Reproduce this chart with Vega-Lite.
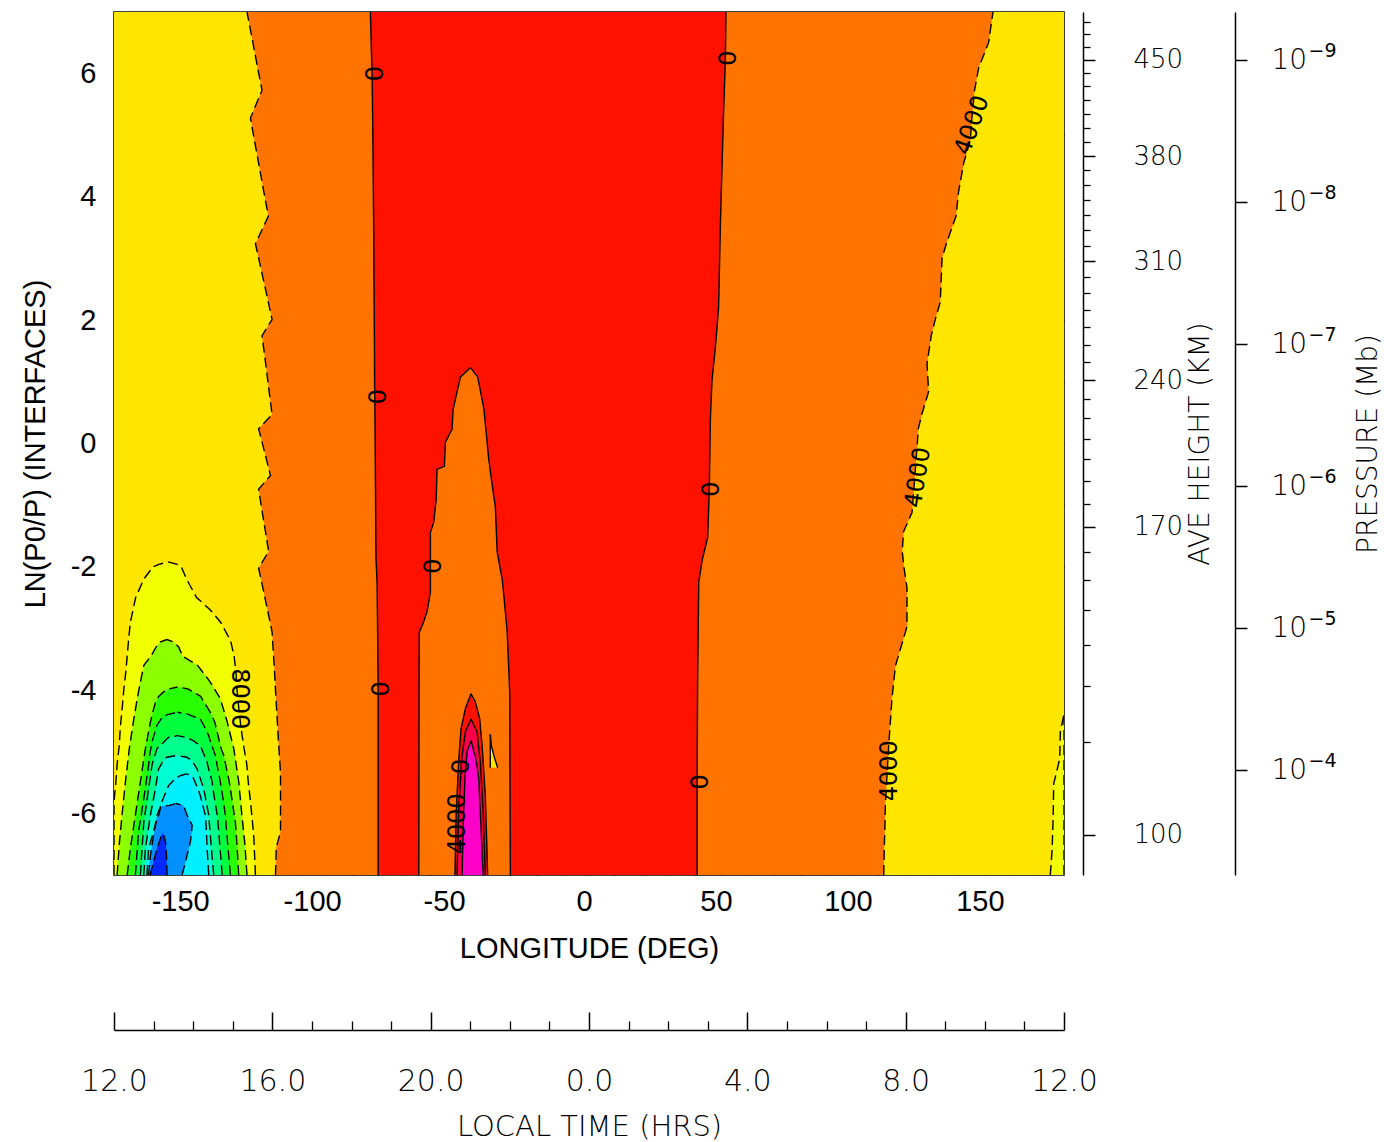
{
  "$schema": "https://vega.github.io/schema/vega-lite/v6.json",
  "width": 950,
  "height": 863,
  "autosize": {"type": "none"},
  "padding": {"left": 114, "top": 12, "right": 320, "bottom": 267},
  "background": "white",
  "config": {"view": {"stroke": "#000", "strokeWidth": 1.5}, "axis": {"grid": false}},
  "datasets": {
    "regions": [
      {"r":"bg","z":-7,"lo":-180,"hi":180},{"r":"bg","z":7,"lo":-180,"hi":180},
      {"r":"lr","z":-4.39,"lo":180,"hi":180},{"r":"lr","z":-4.68,"lo":178.6,"hi":180},{"r":"lr","z":-5.11,"lo":178.4,"hi":180},{"r":"lr","z":-5.52,"lo":176.1,"hi":180},{"r":"lr","z":-6.05,"lo":175.9,"hi":180},{"r":"lr","z":-6.6,"lo":175.5,"hi":180},{"r":"lr","z":-7,"lo":174.8,"hi":180},
      {"r":"or","z":7.0,"lo":-129.6,"hi":153.1},{"r":"or","z":6.5,"lo":-127.35,"hi":151.4},{"r":"or","z":6.1,"lo":-125.6,"hi":147.7},{"r":"or","z":5.73,"lo":-123.9,"hi":146.1},{"r":"or","z":5.28,"lo":-128.3,"hi":145.1},{"r":"or","z":4.92,"lo":-126.8,"hi":144.5},{"r":"or","z":4.55,"lo":-125.2,"hi":142.0},{"r":"or","z":4.1,"lo":-123.3,"hi":140.1},{"r":"or","z":3.69,"lo":-121.5,"hi":139.1},{"r":"or","z":3.24,"lo":-126.4,"hi":135.4},{"r":"or","z":3.01,"lo":-125.2,"hi":133.8},{"r":"or","z":2.29,"lo":-121.5,"hi":133.1},{"r":"or","z":2.01,"lo":-120.1,"hi":131.2},{"r":"or","z":1.75,"lo":-123.9,"hi":129.7},{"r":"or","z":1.29,"lo":-122.5,"hi":128.1},{"r":"or","z":0.84,"lo":-121.2,"hi":128.7},{"r":"or","z":0.47,"lo":-120.1,"hi":126.1},{"r":"or","z":0.24,"lo":-125.2,"hi":124.8},{"r":"or","z":-0.06,"lo":-123.4,"hi":124.3},{"r":"or","z":-0.52,"lo":-120.7,"hi":123.5},{"r":"or","z":-0.74,"lo":-125.2,"hi":123.1},{"r":"or","z":-1.12,"lo":-123.8,"hi":122.4},{"r":"or","z":-1.43,"lo":-122.6,"hi":119.2},{"r":"or","z":-1.75,"lo":-121.4,"hi":118.7},{"r":"or","z":-2.02,"lo":-125.2,"hi":119.4},{"r":"or","z":-2.34,"lo":-123.6,"hi":120.5},{"r":"or","z":-2.97,"lo":-120.5,"hi":120.5},{"r":"or","z":-3.06,"lo":-120.1,"hi":119.9},{"r":"or","z":-3.61,"lo":-119.3,"hi":116.1},{"r":"or","z":-4.15,"lo":-118.6,"hi":114.8},{"r":"or","z":-4.88,"lo":-117.6,"hi":113.6},{"r":"or","z":-5.34,"lo":-116.9,"hi":113.0},{"r":"or","z":-5.87,"lo":-116.9,"hi":112.3},{"r":"or","z":-6.3,"lo":-116.9,"hi":112.1},{"r":"or","z":-6.55,"lo":-118.5,"hi":111.9},{"r":"or","z":-7.0,"lo":-118.8,"hi":111.7},
      {"r":"rd","z":7.0,"lo":-82.85,"hi":51.9},{"r":"rd","z":6.28,"lo":-82.4,"hi":51.7},{"r":"rd","z":6.0,"lo":-82.2,"hi":51.5},{"r":"rd","z":5.37,"lo":-82.0,"hi":51.0},{"r":"rd","z":4.47,"lo":-81.8,"hi":50.4},{"r":"rd","z":3.56,"lo":-81.6,"hi":49.8},{"r":"rd","z":2.2,"lo":-81.4,"hi":49.1},{"r":"rd","z":1.56,"lo":-81.3,"hi":47.9},{"r":"rd","z":1.02,"lo":-81.25,"hi":46.6},{"r":"rd","z":0.76,"lo":-81.2,"hi":46.35},{"r":"rd","z":0.39,"lo":-81.1,"hi":46.0},{"r":"rd","z":-0.71,"lo":-80.9,"hi":45.6},{"r":"rd","z":-1.52,"lo":-80.8,"hi":45.0},{"r":"rd","z":-1.89,"lo":-80.7,"hi":42.9},{"r":"rd","z":-2.25,"lo":-80.3,"hi":41.6},{"r":"rd","z":-3.7,"lo":-79.95,"hi":41.2},{"r":"rd","z":-3.98,"lo":-79.9,"hi":41.15},{"r":"rd","z":-5.47,"lo":-79.9,"hi":41.0},{"r":"rd","z":-7.0,"lo":-79.9,"hi":41.0},
      {"r":"tg","z":1.23,"lo":-44.9,"hi":-44.9},{"r":"tg","z":1.08,"lo":-48.7,"hi":-42.2},{"r":"tg","z":0.8,"lo":-50.2,"hi":-40.9},{"r":"tg","z":0.55,"lo":-51.5,"hi":-39.8},{"r":"tg","z":0.23,"lo":-51.9,"hi":-39.1},{"r":"tg","z":0.02,"lo":-54.4,"hi":-38.6},{"r":"tg","z":-0.26,"lo":-54.7,"hi":-38.0},{"r":"tg","z":-0.37,"lo":-54.8,"hi":-37.6},{"r":"tg","z":-0.42,"lo":-57.6,"hi":-37.5},{"r":"tg","z":-0.91,"lo":-57.9,"hi":-35.9},{"r":"tg","z":-1.02,"lo":-58.2,"hi":-35.5},{"r":"tg","z":-1.28,"lo":-58.85,"hi":-35.25},{"r":"tg","z":-1.44,"lo":-60.1,"hi":-35.1},{"r":"tg","z":-1.76,"lo":-60.1,"hi":-34.8},{"r":"tg","z":-2.2,"lo":-60.1,"hi":-32.9},{"r":"tg","z":-2.41,"lo":-60.1,"hi":-32.4},{"r":"tg","z":-2.73,"lo":-61.35,"hi":-31.7},{"r":"tg","z":-2.96,"lo":-63.25,"hi":-31.2},{"r":"tg","z":-3.06,"lo":-64.3,"hi":-31.0},{"r":"tg","z":-4.03,"lo":-64.4,"hi":-30.05},{"r":"tg","z":-7.0,"lo":-64.5,"hi":-29.8},
      {"r":"s1","z":-4.06,"lo":-44.7,"hi":-44.7},{"r":"s1","z":-4.19,"lo":-45.85,"hi":-43.1},{"r":"s1","z":-4.3,"lo":-46.84,"hi":-42.4},{"r":"s1","z":-4.47,"lo":-47.7,"hi":-41.4},{"r":"s1","z":-4.63,"lo":-48.5,"hi":-41.1},{"r":"s1","z":-4.9,"lo":-48.96,"hi":-40.5},{"r":"s1","z":-5.16,"lo":-49.4,"hi":-40.1},{"r":"s1","z":-5.71,"lo":-50.0,"hi":-39.3},{"r":"s1","z":-5.97,"lo":-50.3,"hi":-39.1},{"r":"s1","z":-7,"lo":-50.8,"hi":-38.4},
      {"r":"s2","z":-4.47,"lo":-44.7,"hi":-44.7},{"r":"s2","z":-4.68,"lo":-46.84,"hi":-42.4},{"r":"s2","z":-5.06,"lo":-48.1,"hi":-41.5},{"r":"s2","z":-5.16,"lo":-48.3,"hi":-41.2},{"r":"s2","z":-5.97,"lo":-49.4,"hi":-40.1},{"r":"s2","z":-7,"lo":-50.0,"hi":-39.3},
      {"r":"s3","z":-4.82,"lo":-44.7,"hi":-44.7},{"r":"s3","z":-5.0,"lo":-46.2,"hi":-43.6},{"r":"s3","z":-5.06,"lo":-46.3,"hi":-43.1},{"r":"s3","z":-5.32,"lo":-46.84,"hi":-42.1},{"r":"s3","z":-5.44,"lo":-47.0,"hi":-41.8},{"r":"s3","z":-5.97,"lo":-47.5,"hi":-41.2},{"r":"s3","z":-6.25,"lo":-47.7,"hi":-40.9},{"r":"s3","z":-7,"lo":-48.1,"hi":-40.1},
      {"r":"tri","z":-4.72,"lo":-37.4,"hi":-37.4},{"r":"tri","z":-4.9,"lo":-37.4,"hi":-37.0},{"r":"tri","z":-5.1,"lo":-37.4,"hi":-35.8},{"r":"tri","z":-5.26,"lo":-37.4,"hi":-34.6},
      {"r":"c1","z":-1.92,"lo":-159.5,"hi":-159.5},{"r":"c1","z":-1.96,"lo":-163,"hi":-156},{"r":"c1","z":-2.0,"lo":-165.2,"hi":-154.5},{"r":"c1","z":-2.2,"lo":-168.7,"hi":-152.5},{"r":"c1","z":-2.5,"lo":-171.8,"hi":-148.7},{"r":"c1","z":-2.7,"lo":-172.8,"hi":-143.5},{"r":"c1","z":-2.9,"lo":-173.8,"hi":-139.6},{"r":"c1","z":-3.2,"lo":-174.5,"hi":-135.8},{"r":"c1","z":-3.45,"lo":-175.0,"hi":-134.5},{"r":"c1","z":-3.7,"lo":-175.5,"hi":-133.8},{"r":"c1","z":-4.0,"lo":-176.3,"hi":-133.4},{"r":"c1","z":-4.3,"lo":-176.9,"hi":-132.7},{"r":"c1","z":-4.6,"lo":-177.6,"hi":-131.9},{"r":"c1","z":-4.9,"lo":-178.0,"hi":-130.9},{"r":"c1","z":-5.2,"lo":-178.8,"hi":-129.7},{"r":"c1","z":-5.5,"lo":-179.3,"hi":-129.1},{"r":"c1","z":-5.8,"lo":-180,"hi":-128.3},{"r":"c1","z":-6.1,"lo":-180,"hi":-127.6},{"r":"c1","z":-6.4,"lo":-180,"hi":-127.0},{"r":"c1","z":-6.7,"lo":-180,"hi":-126.7},{"r":"c1","z":-7.0,"lo":-180,"hi":-126.4},
      {"r":"c2","z":-3.18,"lo":-160,"hi":-160},{"r":"c2","z":-3.22,"lo":-162.5,"hi":-157.5},{"r":"c2","z":-3.3,"lo":-164.0,"hi":-155.5},{"r":"c2","z":-3.45,"lo":-166.0,"hi":-154.0},{"r":"c2","z":-3.6,"lo":-168.7,"hi":-148.3},{"r":"c2","z":-3.87,"lo":-170,"hi":-143.5},{"r":"c2","z":-4.14,"lo":-171.2,"hi":-139.7},{"r":"c2","z":-4.5,"lo":-172.6,"hi":-137.2},{"r":"c2","z":-4.95,"lo":-174.2,"hi":-134.6},{"r":"c2","z":-5.5,"lo":-175.7,"hi":-132.7},{"r":"c2","z":-6.0,"lo":-176.9,"hi":-131.6},{"r":"c2","z":-6.5,"lo":-178.0,"hi":-130.4},{"r":"c2","z":-7.0,"lo":-178.8,"hi":-129.6},
      {"r":"c3","z":-3.95,"lo":-156,"hi":-156},{"r":"c3","z":-3.98,"lo":-159,"hi":-152},{"r":"c3","z":-4.03,"lo":-161.2,"hi":-150},{"r":"c3","z":-4.1,"lo":-163,"hi":-147.2},{"r":"c3","z":-4.2,"lo":-164.3,"hi":-145.8},{"r":"c3","z":-4.36,"lo":-165.3,"hi":-143.5},{"r":"c3","z":-4.52,"lo":-166.2,"hi":-141.8},{"r":"c3","z":-4.68,"lo":-166.9,"hi":-140.9},{"r":"c3","z":-4.95,"lo":-168.1,"hi":-139.4},{"r":"c3","z":-5.06,"lo":-168.5,"hi":-138.4},{"r":"c3","z":-5.49,"lo":-170,"hi":-136.3},{"r":"c3","z":-5.6,"lo":-170.4,"hi":-135.9},{"r":"c3","z":-6.03,"lo":-171.9,"hi":-134.4},{"r":"c3","z":-6.14,"lo":-172.3,"hi":-134.0},{"r":"c3","z":-6.57,"lo":-173.8,"hi":-133.3},{"r":"c3","z":-7.0,"lo":-175,"hi":-132.75},
      {"r":"c4","z":-4.36,"lo":-156,"hi":-156},{"r":"c4","z":-4.39,"lo":-159,"hi":-152},{"r":"c4","z":-4.42,"lo":-161.2,"hi":-150.5},{"r":"c4","z":-4.47,"lo":-162.2,"hi":-147.3},{"r":"c4","z":-4.57,"lo":-163.7,"hi":-146.0},{"r":"c4","z":-4.74,"lo":-164.9,"hi":-144.1},{"r":"c4","z":-4.84,"lo":-165.6,"hi":-143.4},{"r":"c4","z":-5.06,"lo":-166.5,"hi":-141.6},{"r":"c4","z":-5.22,"lo":-166.9,"hi":-140.9},{"r":"c4","z":-5.49,"lo":-167.8,"hi":-139.7},{"r":"c4","z":-5.76,"lo":-168.7,"hi":-138.7},{"r":"c4","z":-6.03,"lo":-169.7,"hi":-137.8},{"r":"c4","z":-6.3,"lo":-170.7,"hi":-137.3},{"r":"c4","z":-7.0,"lo":-171.9,"hi":-135.9},
      {"r":"c5","z":-4.74,"lo":-156,"hi":-156},{"r":"c5","z":-4.77,"lo":-159.5,"hi":-152.5},{"r":"c5","z":-4.82,"lo":-160.5,"hi":-150.0},{"r":"c5","z":-4.9,"lo":-162.5,"hi":-147.3},{"r":"c5","z":-4.95,"lo":-163.7,"hi":-146.8},{"r":"c5","z":-5.17,"lo":-165.3,"hi":-144.7},{"r":"c5","z":-5.22,"lo":-165.6,"hi":-144.5},{"r":"c5","z":-5.49,"lo":-166.5,"hi":-142.8},{"r":"c5","z":-5.6,"lo":-166.9,"hi":-142.5},{"r":"c5","z":-6.03,"lo":-168.3,"hi":-140.9},{"r":"c5","z":-6.14,"lo":-168.7,"hi":-140.6},{"r":"c5","z":-7.0,"lo":-170,"hi":-139},
      {"r":"c6","z":-5.06,"lo":-156,"hi":-156},{"r":"c6","z":-5.09,"lo":-160,"hi":-152.5},{"r":"c6","z":-5.14,"lo":-161.2,"hi":-150.5},{"r":"c6","z":-5.28,"lo":-163.1,"hi":-148.5},{"r":"c6","z":-5.6,"lo":-164.3,"hi":-146},{"r":"c6","z":-6.03,"lo":-166.2,"hi":-144.1},{"r":"c6","z":-6.57,"lo":-168.1,"hi":-143.1},{"r":"c6","z":-7.0,"lo":-168.7,"hi":-142.2},
      {"r":"c7","z":-5.36,"lo":-152.5,"hi":-152.5},{"r":"c7","z":-5.39,"lo":-155,"hi":-150.5},{"r":"c7","z":-5.44,"lo":-156.8,"hi":-149.8},{"r":"c7","z":-5.55,"lo":-159.3,"hi":-148.7},{"r":"c7","z":-5.71,"lo":-160.9,"hi":-147.3},{"r":"c7","z":-5.81,"lo":-161.8,"hi":-146.7},{"r":"c7","z":-6.03,"lo":-163.1,"hi":-145.4},{"r":"c7","z":-6.19,"lo":-164.3,"hi":-145.1},{"r":"c7","z":-6.57,"lo":-166.9,"hi":-144.7},{"r":"c7","z":-7.0,"lo":-167.5,"hi":-144.1},
      {"r":"c8","z":-5.84,"lo":-156.5,"hi":-156.5},{"r":"c8","z":-5.87,"lo":-159,"hi":-154},{"r":"c8","z":-5.89,"lo":-162.4,"hi":-153.5},{"r":"c8","z":-6.03,"lo":-163.7,"hi":-152.3},{"r":"c8","z":-6.19,"lo":-164.4,"hi":-150.4},{"r":"c8","z":-6.35,"lo":-165.0,"hi":-150.7},{"r":"c8","z":-6.46,"lo":-165.4,"hi":-151.05},{"r":"c8","z":-6.68,"lo":-166.2,"hi":-152.3},{"r":"c8","z":-7.0,"lo":-166.9,"hi":-154.2},
      {"r":"c9","z":-6.32,"lo":-161.6,"hi":-161.6},{"r":"c9","z":-6.35,"lo":-162.0,"hi":-161.2},{"r":"c9","z":-6.46,"lo":-162.8,"hi":-160.5},{"r":"c9","z":-6.57,"lo":-163.7,"hi":-160.2},{"r":"c9","z":-7.0,"lo":-166.3,"hi":-159.9}
    ],
    "labels": [
      {"t":"0","lon":-82.1,"z":6.0,"g":"v"},
      {"t":"0","lon":-80.95,"z":0.76,"g":"v"},
      {"t":"0","lon":-79.8,"z":-3.98,"g":"v"},
      {"t":"0","lon":-60.1,"z":-1.99,"g":"v"},
      {"t":"0","lon":51.7,"z":6.25,"g":"v"},
      {"t":"0","lon":45.2,"z":-0.74,"g":"v"},
      {"t":"0","lon":41.1,"z":-5.49,"g":"v"},
      {"t":"0","lon":-49.5,"z":-5.24,"g":"v"},
      {"t":"8000","lon":-132.75,"z":-4.14,"g":"v8"},
      {"t":"4000","lon":114.2,"z":-5.31,"g":"u"},
      {"t":"4000","lon":-49.5,"z":-6.17,"g":"u"},
      {"t":"4000","lon":124.8,"z":-0.55,"g":"u80"},
      {"t":"4000","lon":145.3,"z":5.16,"g":"u73"}
    ]
  },
  "resolve": {"axis": {"x": "independent", "y": "independent"}},
  "layer": [
    {
      "data": {"name": "regions"},
      "transform": [{"filter": "datum.r === 'bg'"}],
      "mark": {"type": "area", "orient": "horizontal", "color": "#FFE600", "clip": true},
      "encoding": {
        "y": {"field": "z", "type": "quantitative", "scale": {"domain": [-7, 7], "nice": false, "zero": false},
          "axis": {"orient": "left", "values": [-6, -4, -2, 0, 2, 4, 6], "labelExpr": "(datum.value < 0 ? '-' : '') + abs(datum.value)", "ticks": false, "domain": false, "labelFont": "Liberation Sans", "labelFontSize": 29, "labelColor": "#000", "labelPadding": 18, "labelFlush": false, "labelOverlap": false, "title": "LN(P0/P) (INTERFACES)", "titleFont": "Liberation Sans", "titleFontSize": 29, "titleFontWeight": "normal", "titleColor": "#000", "titlePadding": 20}},
        "x": {"field": "lo", "type": "quantitative", "stack": null, "scale": {"domain": [-180, 180], "nice": false, "zero": false},
          "axis": {"orient": "bottom", "values": [0, 50, 100, 150], "ticks": false, "domain": false, "labelFont": "Liberation Sans", "labelFontSize": 29, "labelColor": "#000", "labelPadding": 12, "labelOffset": -5, "labelFlush": false, "labelOverlap": false, "title": "LONGITUDE (DEG)", "titleFont": "Liberation Sans", "titleFontSize": 29, "titleFontWeight": "normal", "titleColor": "#000", "titlePadding": 18}},
        "x2": {"field": "hi"}
      }
    },
    {
      "data": {"name": "regions"},
      "transform": [{"filter": "datum.r !== 'bg'"}],
      "mark": {"type": "area", "orient": "horizontal", "clip": true},
      "encoding": {
        "y": {"field": "z", "type": "quantitative", "scale": {"domain": [-7, 7], "nice": false, "zero": false},
          "axis": {"orient": "left", "values": [-6, -5, -4, -3, -2, -1, 0, 1, 2, 3, 4, 5, 6], "labels": false, "domain": false, "ticks": true, "tickSize": -13, "tickColor": "#000", "tickWidth": 1.2, "title": null}},
        "x": {"field": "lo", "type": "quantitative", "stack": null, "scale": {"domain": [-180, 180], "nice": false, "zero": false},
          "axis": {"orient": "bottom", "values": [-170, -160, -140, -130, -120, -110, -90, -80, -70, -60, -40, -30, -20, -10, 10, 20, 30, 40, 60, 70, 80, 90, 110, 120, 130, 140, 160, 170], "labels": false, "domain": false, "ticks": true, "tickSize": -8, "tickColor": "#000", "tickWidth": 1.2, "title": null}},
        "x2": {"field": "hi"},
        "color": {"field": "r", "type": "nominal", "legend": null,
          "scale": {"domain": ["lr", "or", "rd", "tg", "s1", "s2", "s3", "tri", "c1", "c2", "c3", "c4", "c5", "c6", "c7", "c8", "c9"],
                    "range": ["#F2FF00", "#FF7300", "#FF1100", "#FF7300", "#FF1100", "#FF0048", "#FF00C8", "#FFE600", "#F2FF00", "#8CFF00", "#28FF00", "#00FF3C", "#00FF8C", "#00FFD2", "#00F0FF", "#0090FF", "#0028FF"]}}
      }
    },
    {
      "data": {"name": "regions"},
      "transform": [{"filter": {"field": "r", "oneOf": ["rd", "tg", "s1", "s2", "s3", "tri"]}}, {"fold": ["lo", "hi"], "as": ["side", "xv"]}],
      "mark": {"type": "line", "color": "#000", "strokeWidth": 1.4, "clip": true},
      "encoding": {
        "y": {"field": "z", "type": "quantitative", "scale": {"domain": [-7, 7], "nice": false, "zero": false},
          "axis": {"orient": "right", "values": [-6, -5, -4, -3, -2, -1, 0, 1, 2, 3, 4, 5, 6], "labels": false, "domain": false, "ticks": true, "tickSize": -13, "tickColor": "#000", "tickWidth": 1.2, "title": null}},
        "x": {"field": "xv", "type": "quantitative", "scale": {"domain": [-180, 180], "nice": false, "zero": false},
          "axis": {"orient": "top", "values": [-170, -160, -140, -130, -120, -110, -90, -80, -70, -60, -40, -30, -20, -10, 10, 20, 30, 40, 60, 70, 80, 90, 110, 120, 130, 140, 160, 170], "labels": false, "domain": false, "ticks": true, "tickSize": -8, "tickColor": "#000", "tickWidth": 1.2, "title": null}},
        "detail": [{"field": "r", "type": "nominal"}, {"field": "side", "type": "nominal"}],
        "order": {"field": "z", "type": "quantitative"}
      }
    },
    {
      "data": {"name": "regions"},
      "transform": [{"filter": {"field": "r", "oneOf": ["or", "lr", "c1", "c2", "c3", "c4", "c5", "c6", "c7", "c8", "c9"]}}, {"fold": ["lo", "hi"], "as": ["side", "xv"]}],
      "mark": {"type": "line", "color": "#000", "strokeWidth": 1.4, "strokeDash": [10, 5], "clip": true},
      "encoding": {
        "y": {"field": "z", "type": "quantitative", "scale": {"domain": [-7, 7], "nice": false, "zero": false},
          "axis": {"orient": "right", "offset": 19, "values": [6.225, 4.663, 2.955, 1.023, -1.35, -6.343], "domain": true, "domainColor": "#000", "domainWidth": 1.5, "ticks": true, "tickSize": 12, "tickColor": "#000", "tickWidth": 1.5,
            "labelExpr": "datum.value > 6 ? '450' : datum.value > 4 ? '380' : datum.value > 2 ? '310' : datum.value > 0 ? '240' : datum.value > -3 ? '170' : '100'",
            "labelFont": "DejaVu Sans", "labelFontWeight": 200, "labelFontSize": 26, "labelColor": "#000", "labelPadding": 38, "labelBaseline": "middle", "labelFlush": false, "labelOverlap": false,
            "title": "AVE HEIGHT (KM)", "titleFont": "DejaVu Sans", "titleFontSize": 28, "titleFontWeight": 200, "titleColor": "#000", "titleAngle": 270, "titleBaseline": "top", "titlePadding": 4}},
        "x": {"field": "xv", "type": "quantitative", "scale": {"domain": [-180, 180], "nice": false, "zero": false},
          "axis": {"orient": "bottom", "values": [-150, -100, -50, 0, 50, 100, 150], "labels": false, "domain": false, "ticks": true, "tickSize": -13, "tickColor": "#000", "tickWidth": 1.2, "title": null}},
        "detail": [{"field": "r", "type": "nominal"}, {"field": "side", "type": "nominal"}],
        "order": {"field": "z", "type": "quantitative"}
      }
    },
    {
      "data": {"name": "labels"},
      "transform": [{"filter": "datum.g === 'v'"}],
      "mark": {"type": "text", "angle": 90, "font": "DejaVu Sans", "fontSize": 24, "color": "#000", "align": "center", "baseline": "middle"},
      "encoding": {
        "text": {"field": "t"},
        "y": {"field": "z", "type": "quantitative", "scale": {"domain": [-7, 7], "nice": false, "zero": false},
          "axis": {"orient": "right", "offset": 19, "values": [6.841, 6.641, 6.435, 6.012, 5.796, 5.574, 5.348, 5.121, 4.892, 4.43, 4.192, 3.949, 3.704, 3.456, 3.207, 2.697, 2.434, 2.163, 1.887, 1.604, 1.316, 0.722, 0.408, 0.081, -0.259, -0.612, -0.976, -1.764, -2.217, -2.702, -3.269, -3.932, -4.838], "labels": false, "domain": false, "ticks": true, "tickSize": 7, "tickColor": "#000", "tickWidth": 1.3, "title": null}},
        "x": {"field": "lon", "type": "quantitative", "scale": {"domain": [-180, 180], "nice": false, "zero": false},
          "axis": {"orient": "top", "values": [-150, -100, -50, 0, 50, 100, 150], "labels": false, "domain": false, "ticks": true, "tickSize": -13, "tickColor": "#000", "tickWidth": 1.2, "title": null}}
      }
    },
    {
      "data": {"name": "labels"},
      "transform": [{"filter": "datum.g === 'v8'"}],
      "mark": {"type": "text", "angle": 90, "font": "DejaVu Sans", "fontSize": 24, "color": "#000", "align": "center", "baseline": "middle"},
      "encoding": {
        "text": {"field": "t"},
        "y": {"field": "z", "type": "quantitative", "scale": {"domain": [-7, 7], "nice": false, "zero": false}, "axis": null},
        "x": {"field": "lon", "type": "quantitative", "scale": {"domain": [-180, 180], "nice": false, "zero": false},
          "axis": {"orient": "bottom", "values": [-150, -100, -50], "labelExpr": "'-' + abs(datum.value)", "ticks": false, "domain": false, "labelFont": "Liberation Sans", "labelFontSize": 29, "labelColor": "#000", "labelPadding": 12, "labelOffset": -13, "labelFlush": false, "labelOverlap": false, "title": null}}
      }
    },
    {
      "data": {"name": "labels"},
      "transform": [{"filter": "datum.g === 'u'"}],
      "mark": {"type": "text", "angle": 270, "font": "DejaVu Sans", "fontSize": 24, "color": "#000", "align": "center", "baseline": "middle"},
      "encoding": {
        "text": {"field": "t"},
        "y": {"field": "z", "type": "quantitative", "scale": {"domain": [-7, 7], "nice": false, "zero": false},
          "axis": {"orient": "right", "offset": 171, "values": [6.2146, 3.912, 1.6094, -0.6932, -2.9957, -5.2983], "domain": true, "domainColor": "#000", "domainWidth": 1.5, "ticks": true, "tickSize": 12, "tickColor": "#000", "tickWidth": 1.5,
            "labelExpr": "'10'",
            "labelFont": "DejaVu Sans", "labelFontWeight": 200, "labelFontSize": 28, "labelColor": "#000", "labelPadding": 24, "labelBaseline": "middle", "labelFlush": false, "labelOverlap": false,
            "title": "PRESSURE (Mb)", "titleFont": "DejaVu Sans", "titleFontSize": 28, "titleFontWeight": 200, "titleColor": "#000", "titleAngle": 270, "titleBaseline": "top", "titlePadding": 48}},
        "x": {"field": "lon", "type": "quantitative", "scale": {"domain": [-180, 180], "nice": false, "zero": false},
          "axis": {"orient": "bottom", "offset": 155, "values": [-180, -120, -60, 0, 60, 120, 180], "ticks": false, "domain": true, "domainColor": "#000", "domainWidth": 1.5,
            "labelExpr": "format(((datum.value / 15) + 24) % 24, '.1f')",
            "labelFont": "DejaVu Sans", "labelFontWeight": 200, "labelFontSize": 30, "labelColor": "#000", "labelPadding": 36, "labelFlush": false, "labelOverlap": false,
            "title": "LOCAL TIME (HRS)", "titleFont": "DejaVu Sans", "titleFontSize": 29, "titleFontWeight": 200, "titleColor": "#000", "titlePadding": 16}}
      }
    },
    {
      "data": {"name": "labels"},
      "transform": [{"filter": "datum.g === 'u80'"}],
      "mark": {"type": "text", "angle": 279, "font": "DejaVu Sans", "fontSize": 24, "color": "#000", "align": "center", "baseline": "middle"},
      "encoding": {
        "text": {"field": "t"},
        "y": {"field": "z", "type": "quantitative", "scale": {"domain": [-7, 7], "nice": false, "zero": false},
          "axis": {"orient": "right", "offset": 171, "values": [6.2146, 3.912, 1.6094, -0.6932, -2.9957, -5.2983], "domain": false, "ticks": false,
            "labelExpr": "datum.value > 5 ? '−9' : datum.value > 3 ? '−8' : datum.value > 1 ? '−7' : datum.value > -1 ? '−6' : datum.value > -4 ? '−5' : '−4'",
            "labelFont": "DejaVu Sans", "labelFontSize": 19, "labelColor": "#000", "labelPadding": 73, "labelOffset": -10, "labelBaseline": "middle", "labelFlush": false, "labelOverlap": false, "title": null}},
        "x": {"field": "lon", "type": "quantitative", "scale": {"domain": [-180, 180], "nice": false, "zero": false},
          "axis": {"orient": "bottom", "offset": 155, "values": [-180, -120, -60, 0, 60, 120, 180], "labels": false, "domain": false, "ticks": true, "tickSize": -18, "tickColor": "#000", "tickWidth": 1.5, "title": null}}
      }
    },
    {
      "data": {"name": "labels"},
      "transform": [{"filter": "datum.g === 'u73'"}],
      "mark": {"type": "text", "angle": 289, "font": "DejaVu Sans", "fontSize": 24, "color": "#000", "align": "center", "baseline": "middle"},
      "encoding": {
        "text": {"field": "t"},
        "y": {"field": "z", "type": "quantitative", "scale": {"domain": [-7, 7], "nice": false, "zero": false}, "axis": null},
        "x": {"field": "lon", "type": "quantitative", "scale": {"domain": [-180, 180], "nice": false, "zero": false},
          "axis": {"orient": "bottom", "offset": 155, "values": [-165, -150, -135, -105, -90, -75, -45, -30, -15, 15, 30, 45, 75, 90, 105, 135, 150, 165], "labels": false, "domain": false, "ticks": true, "tickSize": -9, "tickColor": "#000", "tickWidth": 1.3, "title": null}}
      }
    }
  ]
}
